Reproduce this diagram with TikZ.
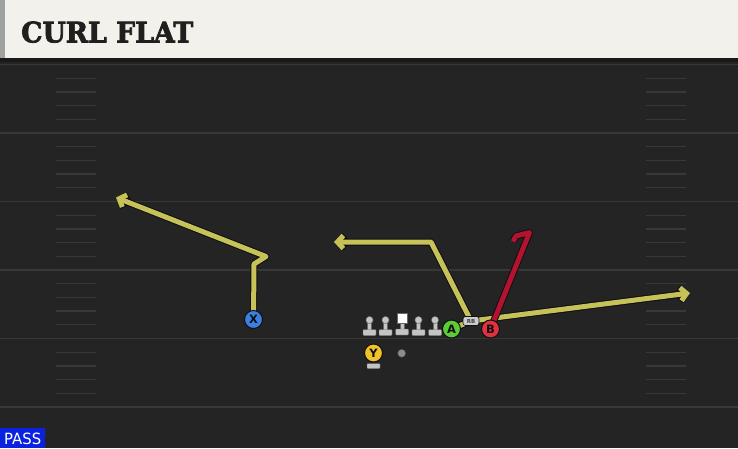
\documentclass[tikz,border=0pt]{standalone}
\usepackage{fontspec}
\usetikzlibrary{arrows.meta}
\newfontfamily\titlefont{DejaVu Serif Bold}[FakeBold=2.5]
\newfontfamily\labelfont{DejaVu Sans}
\definecolor{fieldbg}{HTML}{242424}
\definecolor{headerbg}{HTML}{F3F1EB}
\definecolor{stripgray}{HTML}{A0A2A0}
\definecolor{yardc}{HTML}{383838}
\definecolor{routey}{HTML}{C6C258}
\definecolor{router}{HTML}{B3132F}
\definecolor{edgec}{HTML}{0E0E14}
\definecolor{xblue}{HTML}{3B7FE0}
\definecolor{agreen}{HTML}{5CCB35}
\definecolor{bred}{HTML}{E0323E}
\definecolor{yyellow}{HTML}{F0C22A}
\definecolor{linegray}{HTML}{C4C4C4}
\definecolor{passblue}{HTML}{0A22E0}
\tikzset{
  yardline/.style={draw=yardc, line width=1.8pt},
  hashmark/.style={draw=yardc, line width=1.3pt},
  player/.style={circle, minimum size=18pt, inner sep=0pt, draw=edgec, line width=1pt,
    text=edgec, font=\labelfont\bfseries\fontsize{11.5}{11.5}\selectfont},
  linemanpart/.style={fill=linegray, draw=black!60, line width=0.4pt},
  rbtag/.style={rectangle, rounded corners=2.5pt, fill=linegray!85, draw=edgec, line width=0.6pt,
    minimum width=16pt, minimum height=9pt, inner sep=0pt, text=black!75,
    font=\labelfont\bfseries\fontsize{5.5}{5.5}\selectfont},
  arrowtip/.style={-{Straight Barb[length=6pt,width=13pt]}}
}
\newcommand\myroute[3]{%
  \draw[line width=7pt, draw=edgec, line join=round, #1] #3;
  \draw[line width=5pt, draw=#2, line join=round, #1] #3;}
\begin{document}
\begin{tikzpicture}[x=1pt,y=-1pt]
\useasboundingbox (0,0) rectangle (738,448);
% field
\fill[fieldbg] (0,0) rectangle (738,448);
% header
\fill[headerbg] (0,0) rectangle (738,58);
\fill[stripgray] (0,0) rectangle (5,58);
\fill[black!90] (0,58) rectangle (738,62);
\node[anchor=south west, inner sep=0pt, text=black!88] (title) at (21,43)
  {\resizebox{172pt}{21pt}{\titlefont CURL FLAT}};
% yard lines
\draw[yardline] (0,64.5) -- (738,64.5);
\foreach \n in {1,...,5} {\draw[yardline] (0,{64.5+68.5*\n}) -- (738,{64.5+68.5*\n});}
% hash marks
\foreach \n in {0,...,4} {
  \foreach \j in {1,...,4} {
    \draw[hashmark] (56,{64.5+68.5*\n+13.7*\j}) -- (96,{64.5+68.5*\n+13.7*\j});
    \draw[hashmark] (646,{64.5+68.5*\n+13.7*\j}) -- (686,{64.5+68.5*\n+13.7*\j});
  }
}
% positions
\coordinate (pX) at (253.5,319.5);
\coordinate (pA) at (451.5,329);
\coordinate (pB) at (490.5,329);
\coordinate (pRB) at (471,321);
\coordinate (pY) at (373.5,353);
\coordinate (x1) at (254,264);
\coordinate (x2) at (266,256.5);
\coordinate (x3) at (116,197.5);
\coordinate (a1) at (431,242);
\coordinate (a2) at (334,242);
\coordinate (b1) at (690,293);
\coordinate (r1) at (529.5,232.5);
\coordinate (r2) at (516,236);
\coordinate (r3) at (513,241.5);
% routes
\myroute{arrowtip}{routey}{(pX) -- (x1) -- (x2) -- (x3)}
\myroute{arrowtip}{routey}{(pA) -- (pRB) -- (a1) -- (a2)}
\myroute{arrowtip}{routey}{(pRB) -- (b1)}
\myroute{}{router}{(pB) -- (r1) -- (r2) -- (r3)}
% linemen
\foreach \lx in {369.5,385.5,418.5,435} {
  \fill[linemanpart] (\lx-2,321) rectangle (\lx+2,330);
  \fill[linemanpart] (\lx,320) circle (3.6pt);
  \filldraw[linemanpart, rounded corners=0.8pt] (\lx-6.5,329.5) rectangle (\lx+6.5,335.5);
}
\fill[linemanpart] (400,322) rectangle (404,330);
\filldraw[fill=white, draw=black!60, line width=0.4pt] (397,313.5) rectangle (407,323);
\filldraw[linemanpart, rounded corners=0.8pt] (395.5,329) rectangle (408.5,335);
% Y base and dot
\filldraw[linemanpart, rounded corners=0.8pt] (367,363.5) rectangle (380,368.5);
\filldraw[fill=black!45, draw=black!70, line width=0.4pt] (401.7,353.3) circle (4pt);
% players
\node[player, fill=xblue] (X) at (pX) {X};
\node[player, fill=agreen] (A) at (pA) {A};
\node[player, fill=bred] (B) at (pB) {B};
\node[player, fill=yyellow] (Y) at (pY) {Y};
\node[rbtag] (RB) at (pRB) {RB};
% pass tag
\fill[passblue] (0,427.5) rectangle (45,448);
\node[anchor=south west, inner sep=0pt, text=white] (pass) at (4,444.5)
  {\resizebox{37pt}{11.5pt}{\labelfont PASS}};
\end{tikzpicture}
\end{document}
